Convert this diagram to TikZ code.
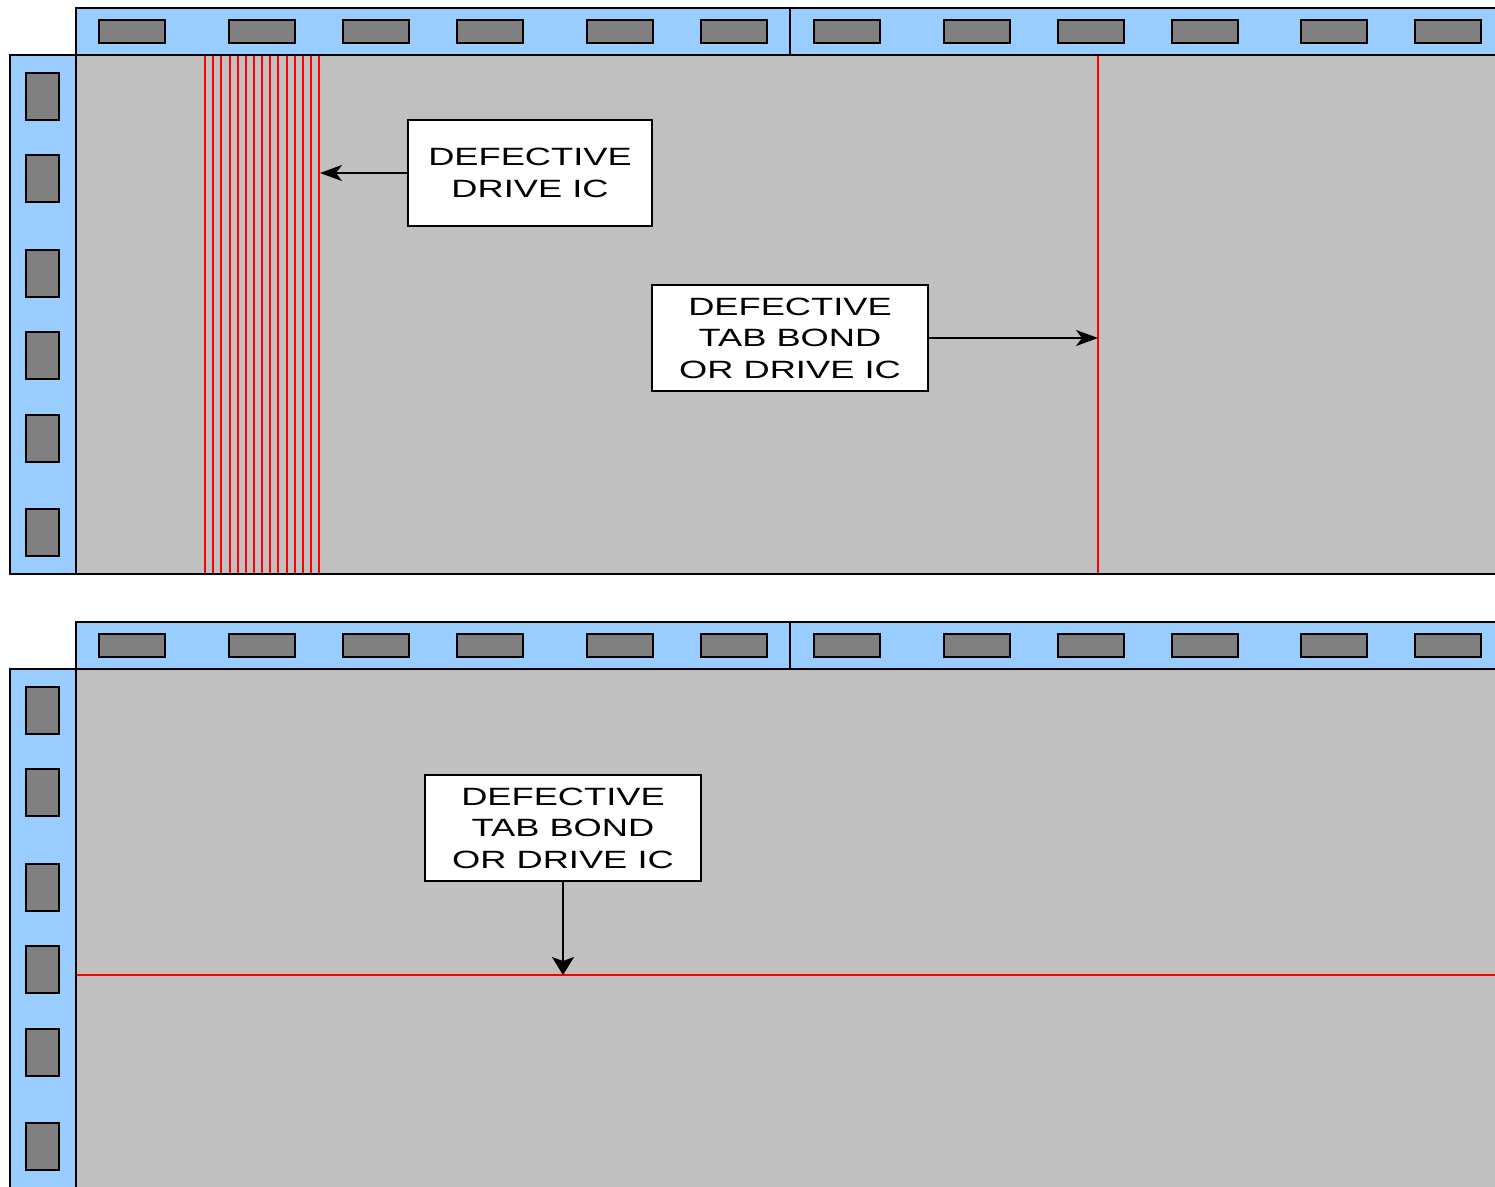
\documentclass[tikz,border=0pt]{standalone}
\usepackage{fontspec}
\setmainfont{Liberation Sans}
\newfontfamily\labfont[FakeStretch=1.45]{Liberation Sans}
\usetikzlibrary{arrows.meta}
\definecolor{stripblue}{HTML}{99CCFF}
\definecolor{panelgray}{HTML}{C0C0C0}
\definecolor{chipgray}{HTML}{808080}
\definecolor{defred}{HTML}{FF0000}
\begin{document}
\begin{tikzpicture}[x=1pt,y=-1pt,
  strip/.style={fill=stripblue,draw=black,line width=2.6pt},
  panelfill/.style={fill=panelgray},
  panelborder/.style={draw=black,line width=2.8pt},
  chip/.style={fill=chipgray,draw=black,line width=2.5pt},
  label/.style={draw=black,fill=white,line width=2pt,
    font=\labfont\fontsize{25}{31.5}\selectfont,align=center,inner sep=0pt},
  fault/.style={draw=defred,line width=2pt},
  thinfault/.style={draw=defred,line width=1.6pt},
  pointer/.style={draw=black,line width=1.7pt,-{Stealth[length=22pt,width=16pt,inset=6pt]}},
  downpointer/.style={draw=black,line width=1.7pt,-{Stealth[length=18pt,width=22pt,inset=4pt]}}]
\useasboundingbox (0,0) rectangle (1495,1186);
\clip (0,0) rectangle (1495,1186);

\foreach \oy in {0,614}{
  % top strip
  \draw[strip] (76,8+\oy) rectangle (1510,55+\oy);
  \draw[black,line width=2.6pt] (790,8+\oy) -- (790,55+\oy);
  \foreach \cx in {99,229,343,457,587,701,814,944,1058,1172,1301,1415}
    \draw[chip] (\cx,20+\oy) rectangle (\cx+66,43+\oy);
  % left strip
  \draw[strip] (10,55+\oy) rectangle (76,574+\oy);
  \foreach \cy in {73,155,250,332,415,509}
    \draw[chip] (26,\cy+\oy) rectangle (59,\cy+47+\oy);
}

% top panel
\fill[panelfill] (76,55) rectangle (1510,574);
\foreach \lx in {205,213,221,230,238,246,254,262,270,278,287,295,303,311,319}
  \draw[fault] (\lx,55) -- (\lx,574);
\draw[thinfault] (1098,55) -- (1098,574);
\draw[panelborder] (76,55) rectangle (1510,574);

% bottom panel
\fill[panelfill] (76,669) rectangle (1510,1200);
\draw[thinfault] (76,975) -- (1510,975);
\draw[panelborder] (76,669) rectangle (1510,1200);

% labels
\node[label,minimum width=244pt,minimum height=106pt] (ic) at (530,173)
  {DEFECTIVE\\DRIVE IC};
\node[label,minimum width=276pt,minimum height=106pt] (tabtop) at (790,338)
  {DEFECTIVE\\TAB BOND\\OR DRIVE IC};
\node[label,minimum width=276pt,minimum height=106pt] (tabbot) at (563,828)
  {DEFECTIVE\\TAB BOND\\OR DRIVE IC};

\coordinate (lines) at (320,173);
\coordinate (col) at (1098,338);
\coordinate (row) at (563,975);

\draw[pointer] (ic.west) -- (lines);
\draw[pointer] (tabtop.east) -- (col);
\draw[downpointer] (tabbot.south) -- (row);
\end{tikzpicture}
\end{document}
